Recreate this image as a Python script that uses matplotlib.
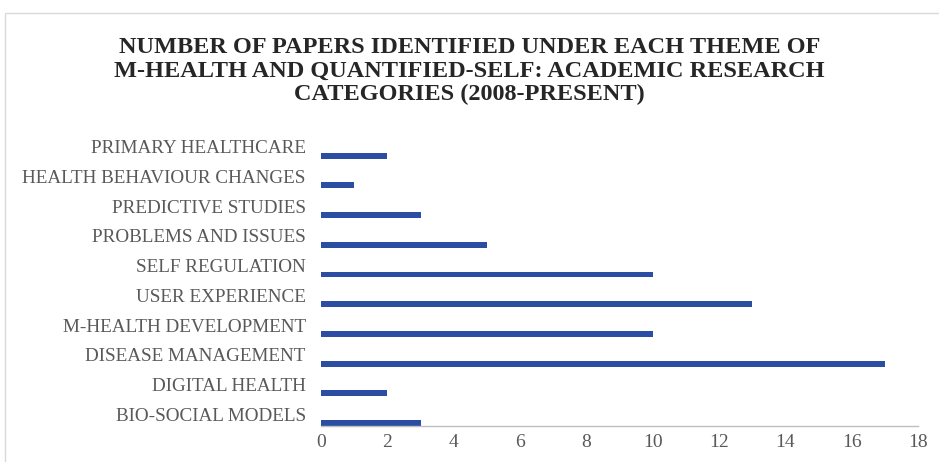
import matplotlib
matplotlib.use("Agg")
import matplotlib.pyplot as plt
from matplotlib.patches import Rectangle
import numpy as np

# -----------------------------------------------------------------------------
# Data (bottom to top, as drawn)
# -----------------------------------------------------------------------------

categories = [
    "BIO-SOCIAL MODELS",
    "DIGITAL HEALTH",
    "DISEASE MANAGEMENT",
    "M-HEALTH DEVELOPMENT",
    "USER EXPERIENCE",
    "SELF REGULATION",
    "PROBLEMS AND ISSUES",
    "PREDICTIVE STUDIES",
    "HEALTH BEHAVIOUR CHANGES",
    "PRIMARY HEALTHCARE",
]
papers = [3, 2, 17, 10, 13, 10, 5, 3, 1, 2]
xticks = [0, 2, 4, 6, 8, 10, 12, 14, 16, 18]

title = ("NUMBER OF PAPERS IDENTIFIED UNDER EACH THEME OF\n"
         "M-HEALTH AND QUANTIFIED-SELF: ACADEMIC RESEARCH\n"
         "CATEGORIES (2008-PRESENT)")

bar_color = "#2B4EA2"
text_color = "#595959"

plt.rcParams["font.family"] = ["Liberation Serif", "DejaVu Serif"]

fig = plt.figure(figsize=(9.39, 4.62), dpi=100)
ax = fig.add_axes([321 / 939, 1 - 426 / 462, (918 - 321) / 939, (426 - 129) / 462])

# bars sit at the bottom of each category band (Excel cluster offset)
bar_h = 0.2
y = np.arange(len(categories))
ax.barh(y - 0.5 + bar_h / 2, papers, height=bar_h, color=bar_color)

ax.set_xlim(0, 18)
ax.set_ylim(-0.5, len(categories) - 0.5)
ax.set_xticks(xticks)
ax.set_yticks(y - 0.1)
ax.set_yticklabels(categories)
ax.tick_params(length=0, labelcolor=text_color)
ax.tick_params(axis="x", pad=6, labelsize=14)
ax.tick_params(axis="y", pad=11, labelsize=13.8)

for s in ["top", "right", "left"]:
    ax.spines[s].set_visible(False)
ax.spines["bottom"].set_color("#BFBFBF")
ax.spines["bottom"].set_linewidth(1.0)

fig.text(0.5, 1 - 71 / 462, title, ha="center", va="center",
         fontsize=17.5, fontweight="bold", color="#262626", linespacing=1.16)

# light outer chart frame
fig.patches.append(Rectangle((5 / 939, -0.1), 1.2, 1 - 13 / 462 + 0.1,
                             transform=fig.transFigure, fill=False,
                             edgecolor="#D9D9D9", linewidth=1.0))

fig.savefig("out.png", dpi=100)
